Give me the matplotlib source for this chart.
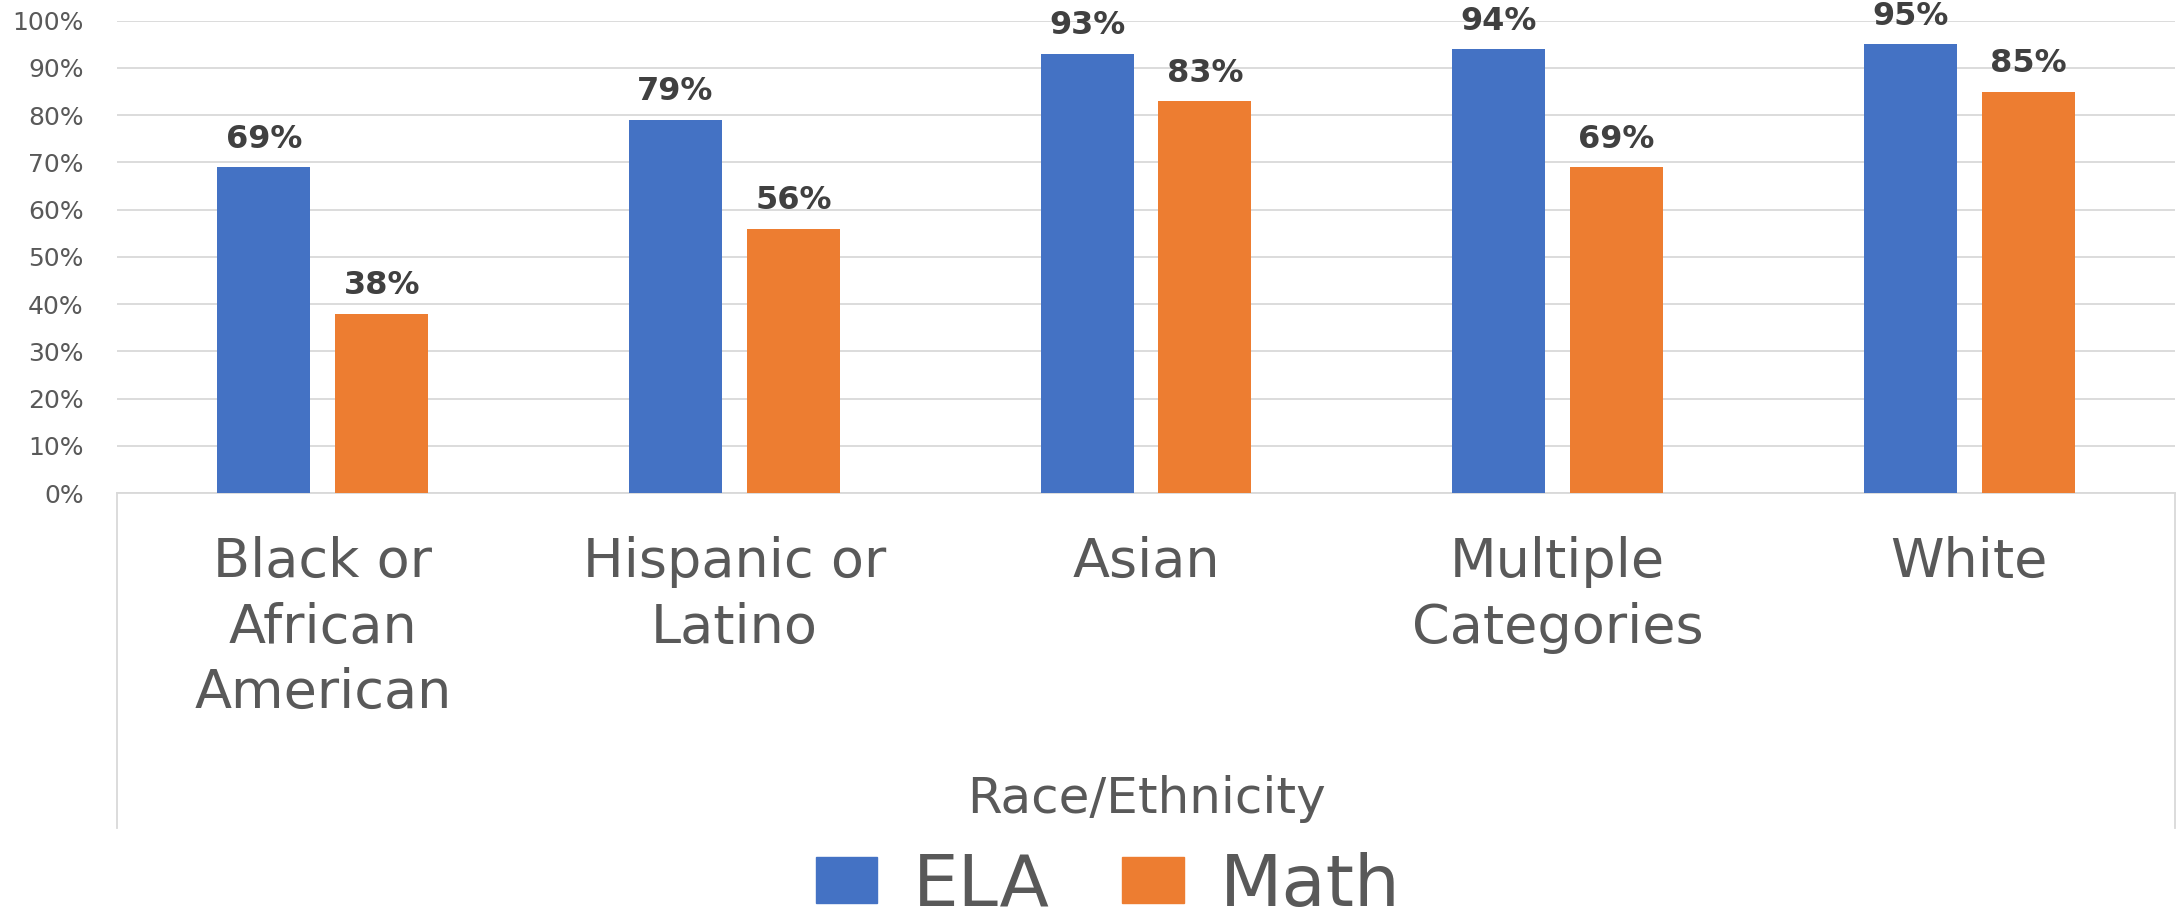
import matplotlib
matplotlib.use("Agg")
import matplotlib.pyplot as plt
import numpy as np
from matplotlib.patches import Patch
from matplotlib.ticker import PercentFormatter

categories = ["Black or\nAfrican\nAmerican", "Hispanic or\nLatino", "Asian",
              "Multiple\nCategories", "White"]
ela = [0.69, 0.79, 0.93, 0.94, 0.95]
math_vals = [0.38, 0.56, 0.83, 0.69, 0.85]
series_names = ["ELA", "Math"]
yticks = [0, 0.1, 0.2, 0.3, 0.4, 0.5, 0.6, 0.7, 0.8, 0.9, 1.0]

BLUE = "#4472C4"
ORANGE = "#ED7D31"
TXT = "#595959"
LBL = "#404040"
GRID = "#D9D9D9"

W, H = 2176, 922
fig = plt.figure(figsize=(W / 100, H / 100), dpi=100)
ax = fig.add_axes([117 / W, 1 - 493 / H, (2175 - 117) / W, (493 - 20.7) / H])

x = np.arange(len(categories))
bw = 0.226
off = 0.1433
b1 = ax.bar(x - off, ela, bw, color=BLUE, zorder=3)
b2 = ax.bar(x + off, math_vals, bw, color=ORANGE, zorder=3)

for bars, vals in ((b1, ela), (b2, math_vals)):
    for rect, v in zip(bars, vals):
        ax.annotate(f"{round(v * 100):d}%", (rect.get_x() + rect.get_width() / 2, v),
                    xytext=(0, 14), textcoords="offset points", ha="center", va="baseline",
                    fontsize=23, fontweight="bold", color=LBL, family="DejaVu Sans",
                    annotation_clip=False)

ax.set_xlim(-0.5, len(categories) - 0.5)
ax.set_ylim(0, 1.0)
ax.set_yticks(yticks)
ax.yaxis.set_major_formatter(PercentFormatter(1.0, decimals=0))
ax.grid(axis="y", color=GRID, linewidth=1.3, zorder=0)
ax.set_axisbelow(True)

for s in ("top", "right", "left"):
    ax.spines[s].set_visible(False)
ax.spines["bottom"].set_color(GRID)
ax.spines["bottom"].set_linewidth(1.3)

ax.set_xticks(x)
ax.set_xticklabels(categories, fontsize=39, color=TXT, family="DejaVu Sans",
                   linespacing=1.33)
ax.tick_params(axis="x", length=0, pad=31)
ax.tick_params(axis="y", length=0, pad=24, labelsize=18, labelcolor=TXT)

# category box lines below the axis
ybot = -(828 - 493) / (493 - 20.7)
for xx in (0, 1):
    ax.plot([xx, xx], [0, ybot], transform=ax.transAxes, color=GRID, lw=1.3,
            clip_on=False)

fig.text(1146 / W, 1 - 813 / H, "Race/Ethnicity", ha="center", va="baseline",
         fontsize=36, color=TXT, family="DejaVu Sans")

handles = [Patch(color=BLUE, label=series_names[0]),
           Patch(color=ORANGE, label=series_names[1])]
leg = fig.legend(handles=handles, loc="center", bbox_to_anchor=(1108 / W, 1 - 886 / H),
                 ncol=2, frameon=False, fontsize=52, handlelength=0.85,
                 handleheight=0.6, handletextpad=0.5, columnspacing=1.0)
for t in leg.get_texts():
    t.set_color(TXT)

fig.savefig("out.png", dpi=100, facecolor="white")
